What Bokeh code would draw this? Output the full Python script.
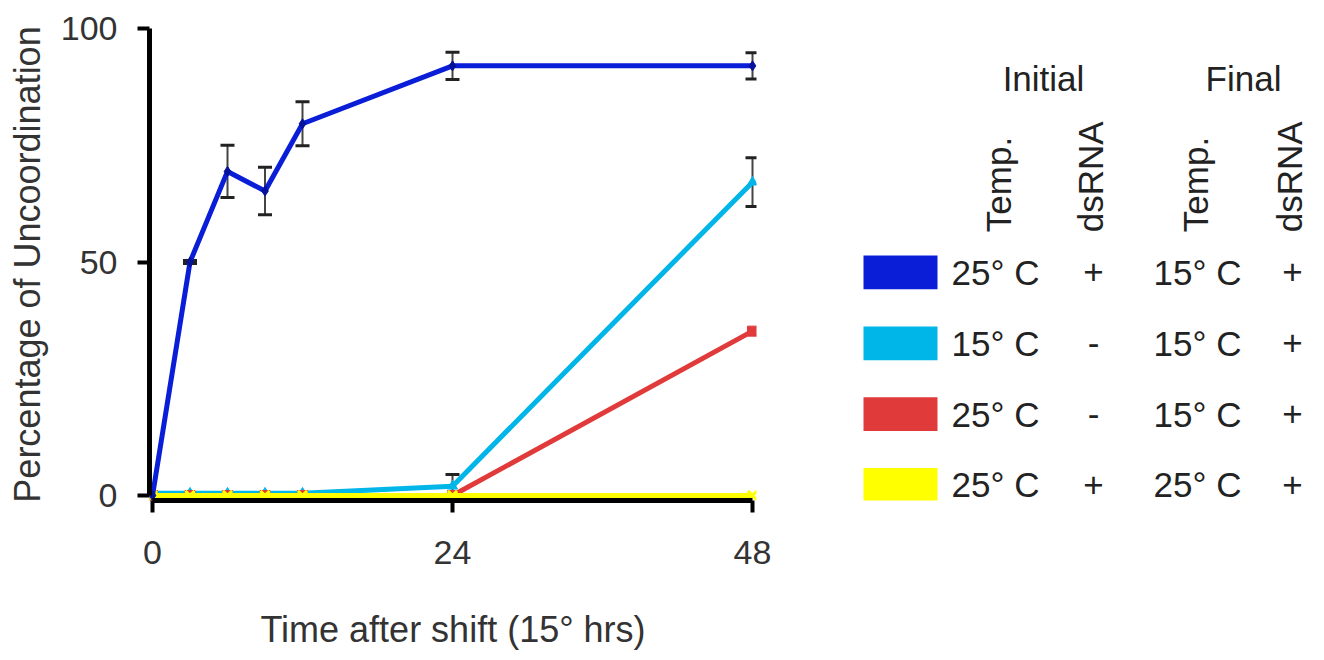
from bokeh.plotting import figure
from bokeh.models import Range1d, ColumnDataSource, Whisker, TeeHead, FixedTicker
from bokeh.layouts import row
from bokeh.embed import file_html
from bokeh.resources import INLINE
from bokeh.core.properties import value
import math

# ---- data ----
time_hrs = [0, 3, 6, 9, 12, 24, 48]
blue_vals = [0, 50, 69.4, 65.2, 79.6, 92.0, 92.0]
blue_err = [0, 0.3, 5.6, 5.1, 4.7, 2.9, 2.8]
cyan_vals = [0.5, 0.5, 0.5, 0.5, 0.5, 2.0, 67.1]
cyan_err = [0, 0, 0, 0, 0, 2.5, 5.2]
red_vals = [0, 0, 0, 0, 0, 0, 35.2]
yellow_vals = [0, 0, 0, 0, 0, 0, 0]

x_ticks = [0, 24, 48]
y_ticks = [0, 50, 100]

series_colors = ["#0a1ed8", "#00b5e8", "#e03a3a", "#ffff00"]
init_temp = ["25° C", "15° C", "25° C", "25° C"]
init_dsrna = ["+", "-", "-", "+"]
final_temp = ["15° C", "15° C", "15° C", "25° C"]
final_dsrna = ["+", "+", "+", "+"]
group_headers = ["Initial", "Final"]
col_headers = ["Temp.", "dsRNA", "Temp.", "dsRNA"]

FONT = "Liberation Sans"
TXT = "#222222"

# ---- layout (pixels) ----
CW, LW, H = 830, 486, 652
B_LEFT, B_TOP, B_BOTTOM = 149, 28, 149
FRAME_RIGHT = 756
FRAME_BOTTOM = H - B_BOTTOM
X0_PX, X_PER = 152.0, 12.5      # pixel of x=0, pixels per hour
Y0_PX, Y_PER = 498.0, 4.7       # pixel of y=0, pixels per percent


def dx(px):
    return (px - X0_PX) / X_PER


def dy(py):
    return (Y0_PX - py) / Y_PER


p = figure(width=CW, height=H,
           x_range=Range1d(dx(B_LEFT), dx(FRAME_RIGHT)),
           y_range=Range1d(dy(FRAME_BOTTOM), dy(B_TOP)),
           output_backend="svg", toolbar_location=None,
           min_border_left=B_LEFT, min_border_right=CW - FRAME_RIGHT,
           min_border_top=B_TOP, min_border_bottom=B_BOTTOM)
p.outline_line_color = None
p.grid.visible = False

for ax in (p.xaxis[0], p.yaxis[0]):
    ax.axis_line_width = 5
    ax.axis_line_color = "black"
    ax.major_tick_line_width = 4
    ax.major_tick_line_color = "black"
    ax.major_tick_in = 0
    ax.major_tick_out = 12
    ax.minor_tick_line_color = None
    ax.major_label_text_font = FONT
    ax.major_label_text_font_size = "34px"
    ax.major_label_text_color = "#333333"
    ax.axis_label_text_font = FONT
    ax.axis_label_text_font_size = "36px"
    ax.axis_label_text_font_style = "normal"
    ax.axis_label_text_color = "#333333"

p.xaxis.ticker = FixedTicker(ticks=x_ticks)
p.yaxis.ticker = FixedTicker(ticks=y_ticks)
p.xaxis.bounds = (x_ticks[0], x_ticks[-1])
p.yaxis.bounds = (y_ticks[0], y_ticks[-1])
p.xaxis.axis_label = "Time after shift (15° hrs)"
p.yaxis.axis_label = "Percentage of Uncoordination"
p.xaxis.major_label_standoff = 28
p.xaxis.axis_label_standoff = 42
p.yaxis.major_label_standoff = 20
p.yaxis.axis_label_standoff = 10

src_b = ColumnDataSource(dict(x=time_hrs, y=blue_vals,
                              lo=[v - e for v, e in zip(blue_vals, blue_err)],
                              hi=[v + e for v, e in zip(blue_vals, blue_err)]))
src_c = ColumnDataSource(dict(x=time_hrs, y=cyan_vals,
                              lo=[v - e for v, e in zip(cyan_vals, cyan_err)],
                              hi=[v + e for v, e in zip(cyan_vals, cyan_err)]))
src_r = ColumnDataSource(dict(x=time_hrs, y=red_vals))
src_y = ColumnDataSource(dict(x=time_hrs, y=yellow_vals))

for src in (src_c, src_b):
    w = Whisker(source=src, base="x", lower="lo", upper="hi", line_color="#444444", line_width=2,
                upper_head=TeeHead(size=14, line_color="#222222", line_width=3),
                lower_head=TeeHead(size=14, line_color="#222222", line_width=3))
    p.add_layout(w)

p.line("x", "y", source=src_c, line_color=series_colors[1], line_width=5)
p.scatter("x", "y", source=src_c, marker="triangle", size=10, color=series_colors[1])
p.line("x", "y", source=src_r, line_color=series_colors[2], line_width=5)
p.scatter("x", "y", source=src_r, marker="square", size=10, color=series_colors[2])
p.line("x", "y", source=src_y, line_color=series_colors[3], line_width=5)
p.scatter("x", "y", source=src_y, marker="x", size=13, line_color=series_colors[3], line_width=3)
p.line("x", "y", source=src_b, line_color=series_colors[0], line_width=5)
p.scatter("x", "y", source=src_b, marker="diamond", size=10, color="#06129a")

# ---- legend table in its own figure (coordinates = page pixels, y negated) ----
lg = figure(width=LW, height=H, x_range=Range1d(CW, CW + LW),
            y_range=Range1d(-FRAME_BOTTOM, -B_TOP),
            output_backend="svg", toolbar_location=None,
            x_axis_location=None, y_axis_location=None,
            min_border_left=0, min_border_right=0,
            min_border_top=B_TOP, min_border_bottom=B_BOTTOM)
lg.outline_line_color = None
lg.grid.visible = False

n = len(series_colors)
row0, row_step = 273.5, 71.3
rows_py = [row0 + i * row_step for i in range(n)]
sw_cx, sw_w, sw_h = 900, 74, 34
col_px = [995, 1093, 1197, 1292]
hdr_px = [1043, 1243]
hdr_py = 78
rot_px = [998, 1090, 1195, 1289]
rot_py = 233

lg.rect(x=[sw_cx] * n, y=[-v for v in rows_py], width=sw_w, height=sw_h,
        fill_color=series_colors, line_color=None)

for cx, vals in zip(col_px, [init_temp, init_dsrna, final_temp, final_dsrna]):
    lg.text(x=[cx] * n, y=[-v for v in rows_py], text=vals, text_font=value(FONT),
            text_font_size="35px", text_color=TXT, text_align="center", text_baseline="middle")

lg.text(x=hdr_px, y=[-hdr_py] * 2, text=group_headers, text_font=value(FONT),
        text_font_size="35px", text_color=TXT, text_align="center", text_baseline="middle")

lg.text(x=rot_px, y=[-rot_py] * 4, text=col_headers, angle=math.pi / 2,
        text_font=value(FONT), text_font_size="35px", text_color=TXT,
        text_align="left", text_baseline="middle")

open("out.html", "w").write(file_html(row(p, lg), INLINE))
